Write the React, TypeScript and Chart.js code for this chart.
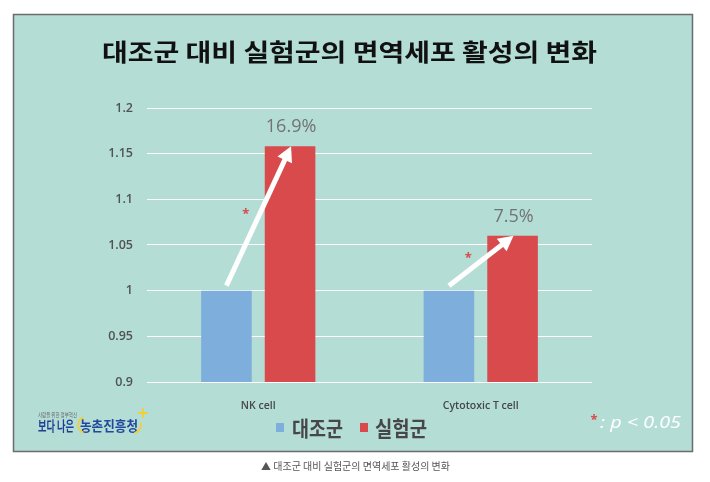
import React, { useEffect, useRef } from "react";
import { Chart, registerables } from "chart.js";

Chart.register(...registerables);

const titleText = "대조군 대비 실험군의 면역세포 활성의 변화";
const captionText = "▲ 대조군 대비 실험군의 면역세포 활성의 변화";
const categories = ["NK cell", "Cytotoxic T cell"];
const seriesNames = ["대조군", "실험군"];
const controlValues = [1, 1];
const treatedValues = [1.158, 1.06];
const percentLabels = ["16.9%", "7.5%"];
const yMin = 0.9;
const yMax = 1.2;
const yStep = 0.05;
const noteText = ": p < 0.05";
const logoSmall = "사람을 위한 정부혁신";
const logoA = "보다 나은";
const logoB = "농촌진흥청";

const KR = '"Noto Sans CJK KR", "Noto Sans", sans-serif';
const BLUE = "#7eaedc";
const RED = "#d84a4c";

function drawFit(ctx: CanvasRenderingContext2D, text: string, x: number, y: number, width: number, align: CanvasTextAlign) {
  const w = ctx.measureText(text).width;
  const s = width / w;
  ctx.save();
  ctx.translate(x, y);
  ctx.scale(s, 1);
  ctx.textAlign = align;
  ctx.fillText(text, 0, 0);
  ctx.restore();
}

function drawArrow(ctx: CanvasRenderingContext2D, x1: number, y1: number, x2: number, y2: number) {
  const ang = Math.atan2(y2 - y1, x2 - x1);
  const head = 15;
  const hw = 8;
  const bx = x2 - head * Math.cos(ang);
  const by = y2 - head * Math.sin(ang);
  ctx.save();
  ctx.strokeStyle = "#ffffff";
  ctx.fillStyle = "#ffffff";
  ctx.lineWidth = 5;
  ctx.beginPath();
  ctx.moveTo(x1, y1);
  ctx.lineTo(bx + 2 * Math.cos(ang), by + 2 * Math.sin(ang));
  ctx.stroke();
  ctx.beginPath();
  ctx.moveTo(x2, y2);
  ctx.lineTo(bx - hw * Math.sin(ang), by + hw * Math.cos(ang));
  ctx.lineTo(bx + hw * Math.sin(ang), by - hw * Math.cos(ang));
  ctx.closePath();
  ctx.fill();
  ctx.restore();
}

const decorPlugin = {
  id: "decor",
  beforeDraw(chart: any) {
    const ctx: CanvasRenderingContext2D = chart.ctx;
    ctx.save();
    ctx.fillStyle = "#ffffff";
    ctx.fillRect(0, 0, chart.width, chart.height);
    ctx.fillStyle = "#b3ddd5";
    ctx.fillRect(13, 14, 680, 438);
    ctx.strokeStyle = "#6b6b6b";
    ctx.lineWidth = 1.5;
    ctx.strokeRect(13.5, 14.5, 679, 437);

    // title
    ctx.fillStyle = "#111111";
    ctx.font = `bold 24px ${KR}`;
    ctx.textBaseline = "middle";
    drawFit(ctx, titleText, 349.5, 52, 495, "center");

    // caption
    ctx.fillStyle = "#555555";
    ctx.font = `10px ${KR}`;
    drawFit(ctx, captionText, 355.5, 466, 189, "center");

    // legend
    const ds = chart.data.datasets;
    const legendItems = [
      { box: 276, text: 292, w: 51 },
      { box: 360, text: 375, w: 52 },
    ];
    legendItems.forEach((it, i) => {
      ctx.fillStyle = ds[i].backgroundColor;
      ctx.fillRect(it.box, 423, 8, 9);
      ctx.fillStyle = "#474747";
      ctx.font = `bold 21px ${KR}`;
      drawFit(ctx, ds[i].label, it.text, 428, it.w, "left");
    });

    // logo
    ctx.fillStyle = "#6a6a6a";
    ctx.font = `6px ${KR}`;
    drawFit(ctx, logoSmall, 38, 415, 39, "left");
    ctx.fillStyle = "#1f3f93";
    ctx.font = `bold 14px ${KR}`;
    drawFit(ctx, logoA, 38, 425.5, 36, "left");
    ctx.fillStyle = "#24489c";
    drawFit(ctx, logoB, 80, 425.5, 58, "left");
    ctx.strokeStyle = "#f2cf3a";
    ctx.lineWidth = 1.8;
    ctx.beginPath();
    ctx.arc(86, 425, 8, Math.PI * 0.6, Math.PI * 1.4);
    ctx.stroke();
    ctx.beginPath();
    ctx.arc(133, 425, 8, -Math.PI * 0.1, Math.PI * 0.45);
    ctx.stroke();
    ctx.beginPath();
    ctx.moveTo(143, 408);
    ctx.lineTo(143, 418);
    ctx.moveTo(138, 413);
    ctx.lineTo(148, 413);
    ctx.stroke();

    // significance note
    ctx.fillStyle = RED;
    ctx.font = `bold 13px "Noto Sans", sans-serif`;
    ctx.textAlign = "center";
    ctx.fillText("*", 594, 420);
    ctx.fillStyle = "#ffffff";
    ctx.font = `italic 16px "Noto Sans", sans-serif`;
    drawFit(ctx, noteText, 600, 423, 81, "left");
    ctx.restore();
  },
  afterDatasetsDraw(chart: any) {
    const ctx: CanvasRenderingContext2D = chart.ctx;
    const yScale = chart.scales.y;
    const m0 = chart.getDatasetMeta(0).data;
    const m1 = chart.getDatasetMeta(1).data;
    ctx.save();
    for (let i = 0; i < categories.length; i++) {
      const b0 = m0[i];
      const b1 = m1[i];
      const x1 = b0.x;
      const y1 = yScale.getPixelForValue(controlValues[i]) - 5;
      const x2 = b1.x + 1;
      const y2 = b1.y;
      drawArrow(ctx, x1, y1, x2, y2);
      // percent label
      ctx.fillStyle = "#737373";
      ctx.font = `500 18px "Open Sans", "Noto Sans", sans-serif`;
      ctx.textAlign = "center";
      ctx.textBaseline = "middle";
      ctx.fillText(percentLabels[i], b1.x + 1, b1.y - 19);
      // asterisk
      const mx = (x1 + x2) / 2 - 13;
      const my = (y1 + y2) / 2 - 5;
      ctx.fillStyle = RED;
      ctx.font = `bold 13px "Noto Sans", sans-serif`;
      ctx.fillText("*", mx, my + 3);
    }
    ctx.restore();
  },
};

export default function App() {
  const ref = useRef<HTMLCanvasElement | null>(null);
  useEffect(() => {
    if (!ref.current) return;
    const chart = new Chart(ref.current, {
      type: "bar",
      data: {
        labels: categories,
        datasets: [
          {
            label: seriesNames[0],
            data: controlValues,
            backgroundColor: BLUE,
            barPercentage: 0.795,
            categoryPercentage: 0.572,
          },
          {
            label: seriesNames[1],
            data: treatedValues,
            backgroundColor: RED,
            barPercentage: 0.795,
            categoryPercentage: 0.572,
          },
        ],
      },
      options: {
        responsive: false,
        maintainAspectRatio: false,
        animation: false,
        layout: { padding: { left: 0, right: 118, top: 108, bottom: 70 } },
        plugins: {
          legend: { display: false },
          title: { display: false },
          tooltip: { enabled: false },
        },
        scales: {
          x: {
            grid: { display: false },
            border: { display: false },
            ticks: {
              color: "#474747",
              font: { family: '"Open Sans", "Noto Sans", sans-serif', size: 10.5, weight: "600" },
              padding: 10,
            },
            afterFit(s: any) {
              s.height = 30;
            },
          },
          y: {
            min: yMin,
            max: yMax,
            border: { display: false },
            grid: { color: "#ffffff", lineWidth: 1, drawTicks: false },
            ticks: {
              stepSize: yStep,
              color: "#525252",
              font: { family: '"Open Sans", "Noto Sans", sans-serif', size: 12.5, weight: "600" },
              padding: 14,
              callback: (v: any) => String(Number(Number(v).toFixed(2))),
            },
            afterFit(s: any) {
              s.width = 147;
            },
          },
        },
      },
      plugins: [decorPlugin],
    } as any);
    return () => chart.destroy();
  }, []);
  return (
    <div style={{ position: "absolute", left: 0, top: 0, width: 710, height: 482, background: "#fff" }}>
      <canvas ref={ref} width={710} height={482} style={{ display: "block" }} />
    </div>
  );
}
